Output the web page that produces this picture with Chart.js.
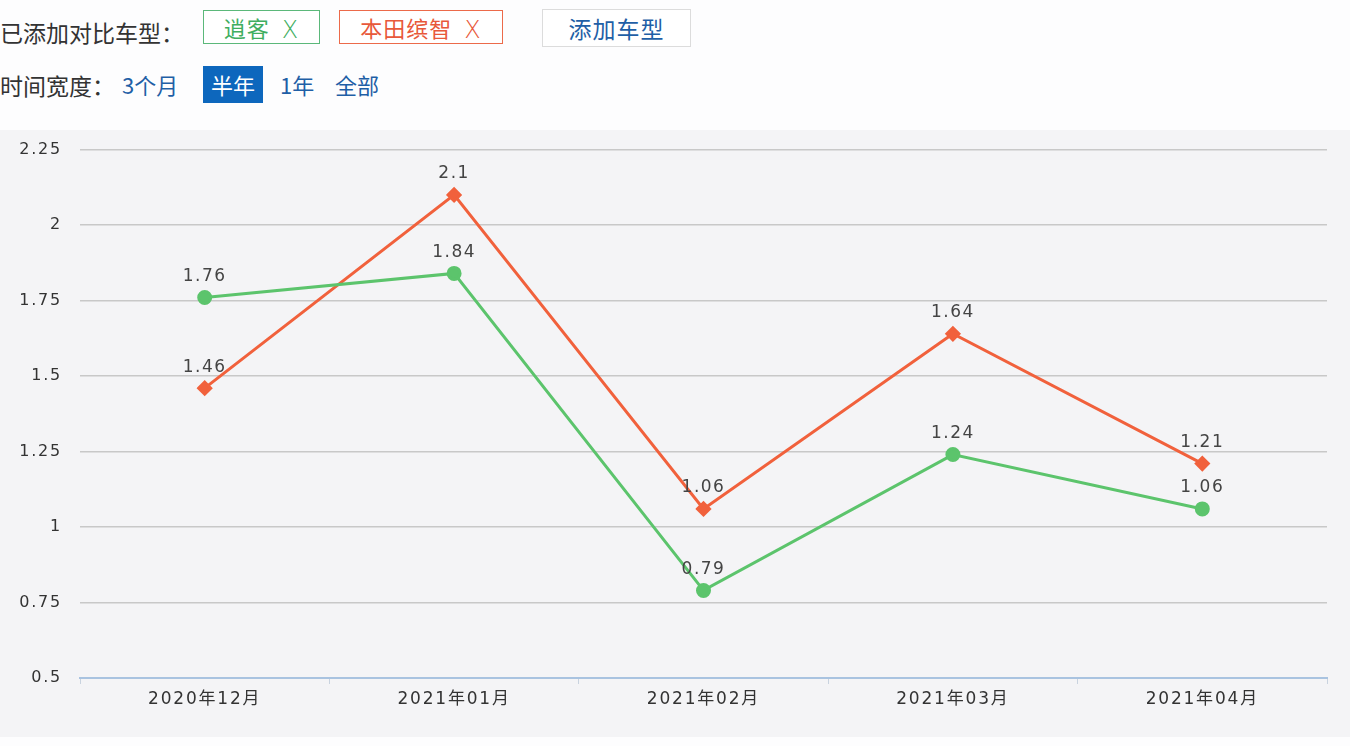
<!DOCTYPE html>
<html>
<head>
<meta charset="utf-8">
<script src="https://cdn.jsdelivr.net/npm/chart.js@4/dist/chart.umd.min.js"></script>
<style>
    body { margin: 0; width: 1350px; height: 746px; background: #fdfdfe; font-family: "Noto Sans CJK SC", sans-serif; position: relative; overflow: hidden; }
    .row { position: absolute; left: 0; display: flex; align-items: center; }
    .lbl { font-size: 23px; color: #333; }
    .tag { position: absolute; height: 34px; box-sizing: border-box; border: 1px solid; display: flex; align-items: center; justify-content: center; font-size: 22px; background: #fff; letter-spacing: 1px; }
    .tag span { margin-left: 12px; font-family: "DejaVu Sans", sans-serif; font-size: 24px; font-weight: 200; line-height: 1; position: relative; top: 3px; }
    .opt { position: absolute; font-size: 22px; color: #1f5fa6; top: 66px; height: 37px; line-height: 37px; }
    #panel { position: absolute; left: 0; top: 130px; width: 1350px; height: 607px; background: #f4f4f6; }
    canvas { display: block; position: absolute; left: 0; top: -8px; }
</style>
</head>
<body>
<div class="row lbl" style="top:14px;height:36px">已添加对比车型：</div>
<div class="tag" style="left:203px;top:10px;width:117px;border-color:#5bb87a;color:#3fae5f">逍客<span>X</span></div>
<div class="tag" style="left:339px;top:10px;width:164px;border-color:#ec6a4a;color:#e8583a">本田缤智<span>X</span></div>
<div class="tag" style="left:542px;top:9px;width:149px;height:38px;border-color:#dcdcdc;color:#1f5fa6;font-size:23px">添加车型</div>
<div class="row lbl" style="top:67px;height:36px">时间宽度：</div>
<div class="opt" style="left:122px">3个月</div>
<div class="opt" style="left:203px;width:60px;text-align:center;background:#0d67bd;color:#fff">半年</div>
<div class="opt" style="left:280px">1年</div>
<div class="opt" style="left:335px">全部</div>
<div id="panel"><canvas id="chart" width="1350" height="615"></canvas></div>
<script>
const months = ["2020年12月", "2021年01月", "2021年02月", "2021年03月", "2021年04月"];
const qashqai = [1.76, 1.84, 0.79, 1.24, 1.06];
const vezel = [1.46, 2.1, 1.06, 1.64, 1.21];
const yMin = 0.5, yMax = 2.25, yStep = 0.25;

const numFont = "'DejaVu Sans', 'Noto Sans CJK SC', sans-serif";

const spacing = {
    id: "spacing",
    beforeDraw(chart) { chart.ctx.letterSpacing = "1.8px"; },
    afterDraw(chart) { chart.ctx.letterSpacing = "0px"; }
};

const valueLabels = {
    id: "valueLabels",
    afterDatasetsDraw(chart) {
        const ctx = chart.ctx;
        ctx.save();
        ctx.font = "17px " + numFont;
        ctx.letterSpacing = "1.5px";
        ctx.fillStyle = "#444";
        ctx.textAlign = "center";
        ctx.textBaseline = "middle";
        chart.data.datasets.forEach((ds, i) => {
            chart.getDatasetMeta(i).data.forEach((pt, j) => ctx.fillText(String(ds.data[j]), pt.x, pt.y - 21));
        });
        ctx.restore();
    }
};

new Chart(document.getElementById("chart"), {
    type: "line",
    data: {
        labels: months,
        datasets: [
            { label: "逍客", data: qashqai, borderColor: "#5cc46c", backgroundColor: "#5cc46c", borderWidth: 3, pointStyle: "circle", pointRadius: 6, pointHoverRadius: 6, tension: 0 },
            { label: "本田缤智", data: vezel, borderColor: "#f1613c", backgroundColor: "#f1613c", borderWidth: 3, pointStyle: "rectRot", pointRadius: 6, pointHoverRadius: 6, tension: 0 }
        ]
    },
    options: {
        responsive: false,
        animation: false,
        devicePixelRatio: 1,
        layout: { padding: { top: 19, right: 23, left: 0, bottom: 0 } },
        plugins: { legend: { display: false }, tooltip: { enabled: false } },
        scales: {
            x: {
                offset: true,
                afterFit: (scale) => { scale.height = 59; },
                grid: { offset: true, drawOnChartArea: false, drawTicks: true, tickLength: 6, color: "#c9d3df" },
                border: { color: "#a9c3e0", width: 2 },
                ticks: { color: "#333", font: { size: 17, family: numFont }, padding: 5 }
            },
            y: {
                min: yMin, max: yMax,
                afterFit: (scale) => { scale.width = 80; },
                grid: { color: "#c8c8c8", lineWidth: 1.5, drawTicks: false },
                border: { display: false },
                ticks: { stepSize: yStep, color: "#333", padding: 18, font: { size: 16, family: numFont }, callback: (v) => String(+v.toFixed(2)) }
            }
        }
    },
    plugins: [spacing, valueLabels]
});
</script>
</body>
</html>
